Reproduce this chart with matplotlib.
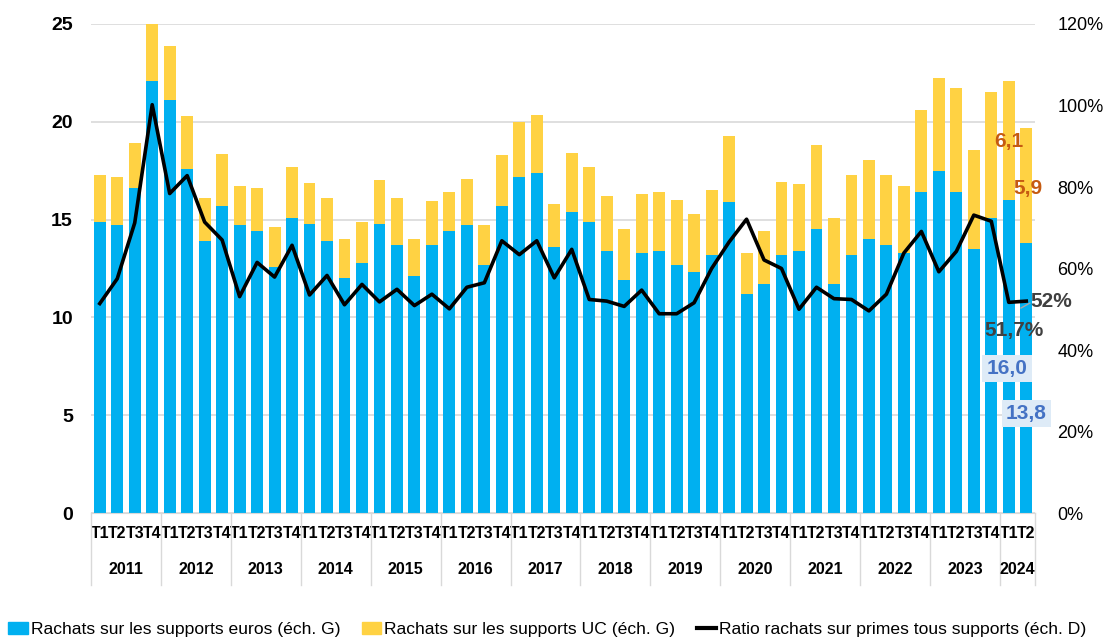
import matplotlib.pyplot as plt
from matplotlib.ticker import FuncFormatter
from matplotlib.lines import Line2D
from matplotlib.patches import Patch
import numpy as np

years = ["2011", "2012", "2013", "2014", "2015", "2016", "2017",
         "2018", "2019", "2020", "2021", "2022", "2023", "2024"]
quarters = ["T1", "T2", "T3", "T4"] * 13 + ["T1", "T2"]

euros = [14.9, 14.7, 16.6, 22.1, 21.1, 17.6, 13.9, 15.7,
         14.7, 14.4, 12.6, 15.1, 14.8, 13.9, 12.0, 12.8,
         14.8, 13.7, 12.1, 13.7, 14.4, 14.7, 12.7, 15.7,
         17.2, 17.4, 13.6, 15.4, 14.9, 13.4, 11.9, 13.3,
         13.4, 12.7, 12.3, 13.2, 15.9, 11.2, 11.7, 13.2,
         13.4, 14.5, 11.7, 13.2, 14.0, 13.7, 13.3, 16.4,
         17.5, 16.4, 13.5, 15.1, 16.0, 13.8]
totals = [17.3, 17.2, 18.9, 25.0, 23.9, 20.3, 16.1, 18.35,
          16.7, 16.6, 14.6, 17.7, 16.85, 16.1, 14.0, 14.9,
          17.0, 16.1, 14.0, 15.95, 16.4, 17.1, 14.7, 18.3,
          20.0, 20.35, 15.8, 18.4, 17.7, 16.2, 14.5, 16.3,
          16.4, 16.0, 15.3, 16.5, 19.25, 13.3, 14.4, 16.9,
          16.8, 18.8, 15.1, 17.3, 18.05, 17.3, 16.7, 20.6,
          22.25, 21.75, 18.55, 21.5, 22.1, 19.7]
uc = [round(t - e, 2) for t, e in zip(totals, euros)]
ratio = [51.4, 57.5, 71.2, 100.2, 78.4, 82.8, 71.4, 67.0,
         53.1, 61.5, 57.9, 65.7, 53.5, 58.3, 51.1, 56.1,
         51.8, 54.9, 50.9, 53.7, 50.1, 55.4, 56.5, 66.8,
         63.4, 66.8, 57.7, 64.7, 52.4, 52.0, 50.7, 54.7,
         48.9, 48.9, 51.6, 60.0, 66.5, 72.1, 62.1, 60.0,
         50.0, 55.4, 52.6, 52.4, 49.6, 53.7, 63.8, 69.1,
         59.2, 64.2, 73.1, 71.6, 51.7, 52.0]

blue = "#00B0F0"
yellow = "#FFD243"
plt.rcParams["font.family"] = ["Liberation Sans", "DejaVu Sans"]

x = np.arange(len(euros))
fig = plt.figure(figsize=(11.06, 6.4), dpi=100)
ax = fig.add_axes([0.0823, 0.1984, 0.8535, 0.7641])
ax.bar(x, euros, width=0.68, color=blue, zorder=2)
ax.bar(x, uc, bottom=euros, width=0.68, color=yellow, zorder=2)
ax.set_xlim(-0.5, len(euros) - 0.5)
ax.set_ylim(0, 25)
ax.set_yticks(range(0, 26, 5))
ax.grid(axis="y", color="#D9D9D9", linewidth=1.2, zorder=0)
ax.tick_params(axis="y", length=0, labelsize=14, pad=13)
for lab in ax.get_yticklabels():
    lab.set_fontweight("bold")
ax.set_xticks(x)
ax.set_xticklabels(quarters, fontsize=11.5, fontweight="bold")
ax.tick_params(axis="x", length=0, pad=9)
for s in ["top", "right", "left"]:
    ax.spines[s].set_visible(False)
ax.spines["bottom"].set_color("#D9D9D9")

# year groups
edges = [-0.5 + 4 * i for i in range(14)] + [len(euros) - 0.5]
trans = ax.get_xaxis_transform()
for e in edges:
    ax.add_line(Line2D([e, e], [0, -0.147], transform=trans,
                       color="#D9D9D9", linewidth=1, clip_on=False))
for i, yr in enumerate(years):
    ax.text((edges[i] + edges[i + 1]) / 2, -0.115, yr, transform=trans,
            ha="center", va="center", fontsize=11.5, fontweight="bold")

ax2 = ax.twinx()
ax2.plot(x, ratio, color="black", linewidth=2.6, zorder=3)
ax2.set_ylim(0, 120)
ax2.set_yticks(range(0, 121, 20))
ax2.yaxis.set_major_formatter(FuncFormatter(lambda v, p: f"{v:.0f}%"))
ax2.tick_params(axis="y", length=0, labelsize=13, pad=16)
for s in ["top", "right", "left", "bottom"]:
    ax2.spines[s].set_visible(False)

# data labels
ax.text(52, 19.0, "6,1", color="#C55A11", fontsize=15, fontweight="bold",
        ha="center", va="center", zorder=5)
ax.text(53.1, 16.6, "5,9", color="#C55A11", fontsize=15, fontweight="bold",
        ha="center", va="center", zorder=5)
box = dict(facecolor="#DEEBF7", edgecolor="none", pad=3)
ax.text(51.9, 7.4, "16,0", color="#4472C4", fontsize=15, fontweight="bold",
        ha="center", va="center", bbox=box, zorder=5)
ax.text(53.0, 5.1, "13,8", color="#4472C4", fontsize=15, fontweight="bold",
        ha="center", va="center", bbox=box, zorder=5)
ax2.text(54.45, 51.8, "52%", color="#404040", fontsize=15, fontweight="bold",
         ha="center", va="center", zorder=5, clip_on=False)
ax2.text(52.3, 44.9, "51,7%", color="#404040", fontsize=15, fontweight="bold",
         ha="center", va="center", zorder=5)
ax2.plot([52.7, 53.2], [50.3, 51.5], color="#A6A6A6", linewidth=1, zorder=4)

handles = [Patch(color=blue), Patch(color=yellow),
           Line2D([0], [0], color="black", linewidth=3)]
labels = ["Rachats sur les supports euros (éch. G)",
          "Rachats sur les supports UC (éch. G)",
          "Ratio rachats sur primes tous supports (éch. D)"]
fig.legend(handles, labels, loc="center", bbox_to_anchor=(0.495, 0.016),
           ncol=3, frameon=False, fontsize=12.6, handlelength=1.1,
           handletextpad=0.2, columnspacing=1.2)

fig.savefig("out.png", dpi=100)
